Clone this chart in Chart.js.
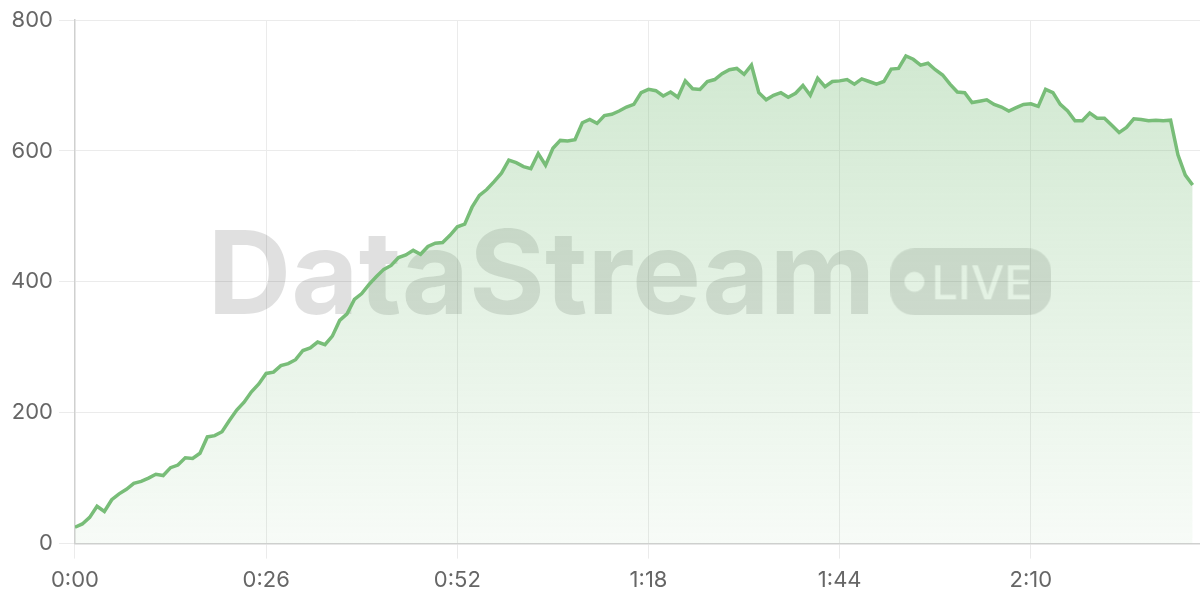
<!DOCTYPE html>
<html>
<head>
<meta charset="utf-8">
<script src="https://cdn.jsdelivr.net/npm/chart.js@4/dist/chart.umd.min.js"></script>
<style>
  html, body { margin: 0; padding: 0; background: #ffffff; }
  #wrap { width: 1200px; height: 600px; position: relative; }
</style>
</head>
<body>
<div id="wrap"><canvas id="c" width="1200" height="600"></canvas></div>
<script>
// Values sampled once per second (0:00 .. 2:32)
const values = [
  25, 30, 40, 57, 49, 67, 76, 83, 92, 95,
  100, 106, 104, 116, 120, 131, 130, 138, 163, 165,
  171, 188, 204, 216, 232, 244, 260, 262, 272, 275,
  281, 295, 299, 308, 304, 317, 341, 351, 373, 382,
  396, 408, 419, 425, 437, 441, 448, 442, 454, 459,
  460, 471, 484, 488, 514, 532, 541, 553, 566, 586,
  582, 576, 573, 596, 578, 604, 616, 615, 617, 643,
  648, 642, 654, 656, 661, 667, 671, 689, 694, 692,
  684, 690, 682, 707, 695, 694, 706, 709, 718, 724,
  726, 717, 731, 689, 678, 685, 689, 682, 688, 700,
  685, 711, 698, 706, 707, 709, 702, 710, 706, 702,
  706, 725, 726, 745, 740, 731, 734, 724, 716, 702,
  690, 689, 674, 676, 678, 671, 667, 661, 666, 671,
  672, 668, 694, 689, 671, 661, 646, 646, 658, 650,
  650, 639, 628, 636, 649, 648, 646, 647, 646, 647,
  594, 563, 548
];
const seconds = values.map((_, i) => i);
const xTickValues = [0, 26, 52, 78, 104, 130];
const yTickValues = [0, 200, 400, 600, 800];
const watermarkText = "DataStream";
const badgeText = "LIVE";

function fmtTime(s) {
  const m = Math.floor(s / 60);
  const r = s % 60;
  return m + ":" + String(r).padStart(2, "0");
}

const watermarkPlugin = {
  id: "watermark",
  beforeDatasetsDraw(chart) {
    const { ctx, chartArea } = chart;
    const cx = (chartArea.left + chartArea.right) / 2;
    const cy = (chartArea.top + chartArea.bottom) / 2;
    ctx.save();
    ctx.font = "bold 116px Inter";
    const tw = ctx.measureText(watermarkText).width;
    const gap = 15;
    const pillW = 161, pillH = 67, pillR = 24;
    const total = tw + gap + pillW;
    const x0 = cx - total / 2 - 8;
    ctx.fillStyle = "rgba(0,0,0,0.12)";
    ctx.textAlign = "left";
    ctx.textBaseline = "alphabetic";
    ctx.fillText(watermarkText, x0, cy + 32);

    // pill with knocked-out dot and text
    const off = document.createElement("canvas");
    off.width = pillW; off.height = pillH;
    const o = off.getContext("2d");
    o.fillStyle = "rgba(0,0,0,0.12)";
    o.beginPath();
    o.roundRect(0, 0, pillW, pillH, pillR);
    o.fill();
    o.globalCompositeOperation = "destination-out";
    o.fillStyle = "rgba(0,0,0,1)";
    o.beginPath();
    o.arc(24, pillH / 2, 10, 0, Math.PI * 2);
    o.fill();
    o.font = "500 47px Inter";
    o.textAlign = "left";
    o.textBaseline = "alphabetic";
    o.fillText(badgeText, 41, pillH / 2 + 17);
    ctx.drawImage(off, x0 + tw + gap, cy - pillH / 2);
    ctx.restore();
  }
};

const ctx = document.getElementById("c").getContext("2d");
Chart.defaults.font.family = "Inter";
Chart.defaults.font.size = 22;
Chart.defaults.color = "#666666";

new Chart(ctx, {
  type: "line",
  data: {
    datasets: [{
      data: seconds.map((s, i) => ({ x: s, y: values[i] })),
      borderColor: "#78bd78",
      borderWidth: 3.5,
      pointRadius: 0,
      tension: 0,
      fill: "origin",
      backgroundColor(context) {
        const ca = context.chart.chartArea;
        if (!ca) return "rgba(120,189,120,0.2)";
        const g = context.chart.ctx.createLinearGradient(0, ca.top, 0, ca.bottom);
        g.addColorStop(0, "rgba(120,189,120,0.36)");
        g.addColorStop(1, "rgba(120,189,120,0.06)");
        return g;
      }
    }]
  },
  options: {
    responsive: false,
    animation: false,
    layout: { padding: { left: 5, top: 20, right: 0, bottom: -3 } },
    plugins: { legend: { display: false }, tooltip: { enabled: false } },
    scales: {
      x: {
        type: "linear",
        min: 0,
        max: 153,
        afterBuildTicks(scale) { scale.ticks = xTickValues.map(v => ({ value: v })); },
        grid: { color: "#ebebeb", lineWidth: 1, tickLength: 15 },
        border: { color: "#cfd0cf", width: 1.5 },
        ticks: { callback: v => fmtTime(v), padding: 9, maxRotation: 0, autoSkip: false, color: "#666666" }
      },
      y: {
        min: 0,
        max: 800,
        afterBuildTicks(scale) { scale.ticks = yTickValues.map(v => ({ value: v })); },
        grid: { color: "#ebebeb", lineWidth: 1, tickLength: 16 },
        border: { color: "#cfd0cf", width: 1.5 },
        ticks: { padding: 6, color: "#666666" }
      }
    }
  },
  plugins: [watermarkPlugin]
});
</script>
</body>
</html>
